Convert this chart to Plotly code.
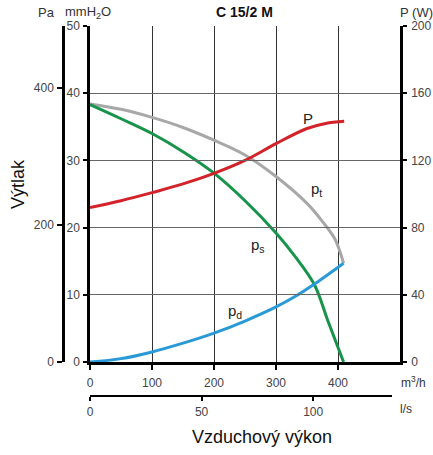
import plotly.graph_objects as go

# ---- data ----
ps_flow = [0, 50, 100, 150, 200, 250, 300, 330, 362, 383, 409]
ps_val = [38.3, 36.2, 34.0, 31.3, 28.1, 24.0, 19.2, 15.8, 11.5, 6.3, 0.0]

pt_flow = [0, 50, 100, 150, 200, 250, 300, 350, 375, 395, 409]
pt_val = [38.4, 37.6, 36.4, 34.9, 33.0, 30.8, 27.6, 23.6, 20.9, 18.3, 14.7]

pd_flow = [0, 50, 100, 150, 200, 250, 300, 330, 362, 409]
pd_val = [0.0, 0.5, 1.5, 2.8, 4.3, 6.1, 8.2, 9.7, 11.6, 14.7]

P_flow = [0, 50, 100, 150, 200, 250, 300, 350, 380, 410]
P_val = [92, 96, 100.8, 106, 112.3, 120, 130, 139, 142, 143.3]

flow_ticks = [0, 100, 200, 300, 400]
mm_ticks = [0, 10, 20, 30, 40, 50]
pa_ticks = [0, 200, 400]
w_ticks = [0, 40, 80, 120, 160, 200]
ls_ticks = [0, 50, 100]

# ---- layout geometry ----
W, H = 433, 455
ML, MR, MT, MB = 30, 33, 26, 40
PW = W - ML - MR
PH = H - MT - MB


def px(x):
    return (x - ML) / PW


def py(y):
    return (H - MB - y) / PH


x_dom0 = px(90)
y_dom0 = py(362)

FONT = "Liberation Sans, Arial, sans-serif"
tickfont = dict(family=FONT, size=12, color="#444444")

RED = "#d3222a"
GREEN = "#17944a"
GRAY = "#a8a8a8"
BLUE = "#2a9ad6"

fig = go.Figure()
fig.add_trace(go.Scatter(x=pt_flow, y=pt_val, mode="lines", line=dict(color=GRAY, width=3, shape="spline"),
                         xaxis="x", yaxis="y", hoverinfo="skip"))
fig.add_trace(go.Scatter(x=ps_flow, y=ps_val, mode="lines", line=dict(color=GREEN, width=3, shape="spline"),
                         xaxis="x", yaxis="y", hoverinfo="skip"))
fig.add_trace(go.Scatter(x=pd_flow, y=pd_val, mode="lines", line=dict(color=BLUE, width=3, shape="spline"),
                         xaxis="x", yaxis="y", hoverinfo="skip"))
fig.add_trace(go.Scatter(x=P_flow, y=P_val, mode="lines", line=dict(color=RED, width=3, shape="spline"),
                         xaxis="x", yaxis="y2", hoverinfo="skip"))
# dummy traces to show the extra axes
fig.add_trace(go.Scatter(x=[0, 135], y=[None, None], mode="lines", xaxis="x2", yaxis="y", hoverinfo="skip"))
fig.add_trace(go.Scatter(x=[0, 400], y=[None, None], mode="lines", xaxis="x", yaxis="y3", hoverinfo="skip"))

axis_common = dict(showline=True, linecolor="black", ticks="outside", tickcolor="black",
                   tickfont=tickfont, zeroline=False, fixedrange=True, automargin=False)

fig.update_layout(
    template="none",
    width=W, height=H,
    margin=dict(l=ML, r=MR, t=MT, b=MB, pad=0),
    paper_bgcolor="white", plot_bgcolor="rgba(0,0,0,0)",
    showlegend=False,
    xaxis=dict(domain=[x_dom0, 1], range=[0, 500], tickvals=flow_ticks, showgrid=True,
               gridcolor="#333333", gridwidth=1.3, linewidth=2.5, ticklen=5, tickwidth=1.5,
               anchor="y", ticklabelstandoff=3, **axis_common),
    yaxis=dict(domain=[y_dom0, 1], range=[0, 50], tickvals=mm_ticks, showgrid=True,
               gridcolor="#666666", gridwidth=1, linewidth=2.5, ticklen=4, tickwidth=1.5,
               anchor="x", ticklabelstandoff=1, **axis_common),
    yaxis2=dict(overlaying="y", side="right", range=[0, 200], tickvals=w_ticks, showgrid=False,
                linewidth=2.5, ticklen=4, tickwidth=1.5, anchor="x", ticklabelstandoff=2, **axis_common),
    yaxis3=dict(overlaying="y", side="left", anchor="free", position=px(63), range=[0, 50 * 9.80665],
                tickvals=pa_ticks, showgrid=False, linewidth=2.5, ticklen=5, tickwidth=2,
                ticklabelstandoff=1, **axis_common),
    xaxis2=dict(domain=[x_dom0, px(392)], anchor="free", position=py(396), range=[0, 135.3],
                tickvals=ls_ticks, showgrid=False, linewidth=2, ticklen=4, tickwidth=1.5,
                ticklabelstandoff=1, **axis_common),
)


def ann(text, x, y, size=12, color="#333333", bold=False, angle=0, xanchor="center"):
    if bold:
        text = "<b>" + text + "</b>"
    fig.add_annotation(text=text, x=px(x), y=py(y), xref="paper", yref="paper", showarrow=False,
                       font=dict(family=FONT, size=size, color=color), textangle=angle,
                       xanchor=xanchor, yanchor="middle")


ann("Pa", 46, 12, size=13)
ann("mmH<sub>2</sub>O", 88, 12, size=13)
ann("C 15/2 M", 245, 12, size=14, color="#111111", bold=True)
ann("P (W)", 416, 12, size=13)
ann("m<sup>3</sup>/h", 413, 382)
ann("l/s", 406, 409)
ann("Vzduchový výkon", 262, 437, size=18, color="#111111")
ann("Výtlak", 18, 184, size=18, color="#111111", angle=-90)
ann("P", 308, 118, size=15, color="#222222")
ann("p<sub>t</sub>", 316, 190, size=15, color="#222222")
ann("p<sub>s</sub>", 258, 245, size=15, color="#222222")
ann("p<sub>d</sub>", 235, 311, size=15, color="#222222")

fig.write_html("out.html", config={"displayModeBar": False},
               post_script="document.body.style.margin='0';document.body.style.padding='0';")
